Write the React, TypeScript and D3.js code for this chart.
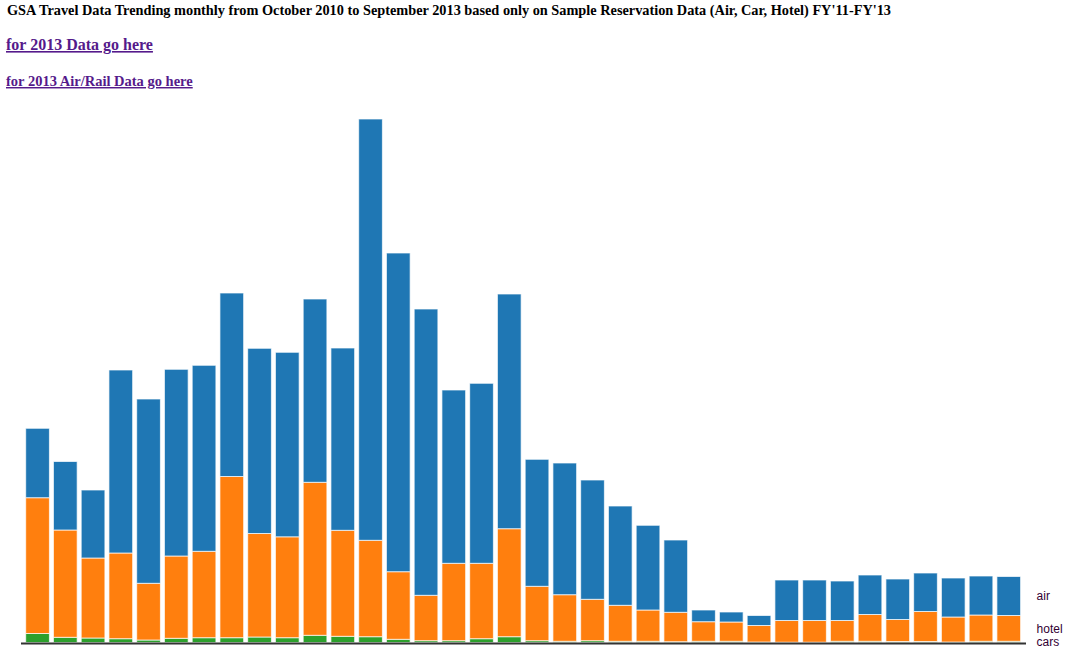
import React from "react";
import * as d3 from "d3";

const months = [
  "Oct 2010","Nov 2010","Dec 2010","Jan 2011","Feb 2011","Mar 2011","Apr 2011","May 2011","Jun 2011","Jul 2011","Aug 2011","Sep 2011",
  "Oct 2011","Nov 2011","Dec 2011","Jan 2012","Feb 2012","Mar 2012","Apr 2012","May 2012","Jun 2012","Jul 2012","Aug 2012","Sep 2012",
  "Oct 2012","Nov 2012","Dec 2012","Jan 2013","Feb 2013","Mar 2013","Apr 2013","May 2013","Jun 2013","Jul 2013","Aug 2013","Sep 2013",
];

const cars = [
  9.0, 5.2, 4.5, 3.8, 2.5, 4.2, 4.8, 4.8, 5.5, 4.8, 7.2, 6.2,
  5.8, 3.2, 1.8, 1.8, 3.8, 5.8, 1.8, 1.2, 1.8, 1.2, 1.2, 0.8,
  1.2, 1.2, 0.5, 0.3, 0.3, 1.2, 1.2, 1.0, 1.0, 0.5, 1.2, 1.2,
];

const hotel = [
  135.8, 107.3, 80.0, 85.7, 56.7, 82.3, 86.4, 161.2, 103.5, 100.9, 153.0, 106.0,
  96.4, 67.6, 45.4, 77.4, 75.4, 108.0, 54.4, 46.6, 41.4, 36.0, 31.3, 29.4,
  19.6, 19.3, 16.5, 21.7, 21.7, 20.8, 26.8, 22.0, 30.0, 25.0, 26.3, 25.8,
];

const air = [
  69.4, 68.5, 68.0, 183.0, 184.3, 186.7, 186.0, 183.5, 185.2, 184.5, 183.3, 182.3,
  421.3, 318.7, 286.3, 173.3, 180.0, 234.7, 127.0, 131.7, 119.3, 99.3, 84.7, 72.3,
  11.7, 10.0, 10.0, 40.5, 40.5, 39.5, 39.5, 40.5, 38.5, 39.0, 39.0, 39.0,
];

const seriesNames = ["cars", "hotel", "air"];
const seriesColors = ["#2ca02c", "#ff7f0e", "#1f77b4"];

const titleText =
  "GSA Travel Data Trending monthly from October 2010 to September 2013 based only on Sample Reservation Data (Air, Car, Hotel) FY'11-FY'13";
const link1Text = "for 2013 Data go here";
const link2Text = "for 2013 Air/Rail Data go here";

export default function App() {
  const W = 1070;
  const H = 651;
  const rows = months.map((m, i) => ({ month: m, cars: cars[i], hotel: hotel[i], air: air[i] }));
  const stack = d3.stack<any>().keys(seriesNames);
  const layers = stack(rows);
  const maxTotal = d3.max(rows, (r) => r.cars + r.hotel + r.air) as number;

  const x = d3.scaleBand<string>().domain(months).range([25.7, 1020.6]).paddingInner(0.146).paddingOuter(0);
  const y = d3.scaleLinear().domain([0, maxTotal]).range([642.5, 119]);

  const last = months.length - 1;
  const labelX = (x(months[last]) as number) + x.bandwidth() + 16;

  return (
    <svg width={W} height={H} style={{ position: "absolute", left: 0, top: 0 }}>
      <text x={7} y={15} fontFamily="'Liberation Serif', serif" fontWeight="bold" fontSize={14.3} fill="#000">
        {titleText}
      </text>
      <text x={6} y={50} fontFamily="'Liberation Serif', serif" fontWeight="bold" fontSize={16} fill="#551A8B" textDecoration="underline" style={{ textDecoration: "underline" }}>
        {link1Text}
      </text>
      <text x={6} y={86} fontFamily="'Liberation Serif', serif" fontWeight="bold" fontSize={14.5} fill="#551A8B" textDecoration="underline" style={{ textDecoration: "underline" }}>
        {link2Text}
      </text>
      <g>
        {layers.map((layer, li) => (
          <g key={layer.key} fill={seriesColors[li]}>
            {layer.map((d, i) => (
              <rect
                key={i}
                x={x(months[i])}
                y={y(d[1])}
                width={x.bandwidth()}
                height={Math.max(0, y(d[0]) - y(d[1]))}
                stroke="#fff"
                strokeWidth={1}
                strokeOpacity={0.7}
              />
            ))}
          </g>
        ))}
      </g>
      <line x1={21} x2={1026} y1={643.5} y2={643.5} stroke="#333" strokeWidth={2} />
      {layers.map((layer, li) => {
        const d = layer[last];
        return (
          <text
            key={layer.key}
            x={labelX}
            y={y((d[0] + d[1]) / 2)}
            dy="0.35em"
            fontFamily="'Liberation Sans', Arial, sans-serif"
            fontSize={12}
            fill="#303"
          >
            {seriesNames[li]}
          </text>
        );
      })}
    </svg>
  );
}
